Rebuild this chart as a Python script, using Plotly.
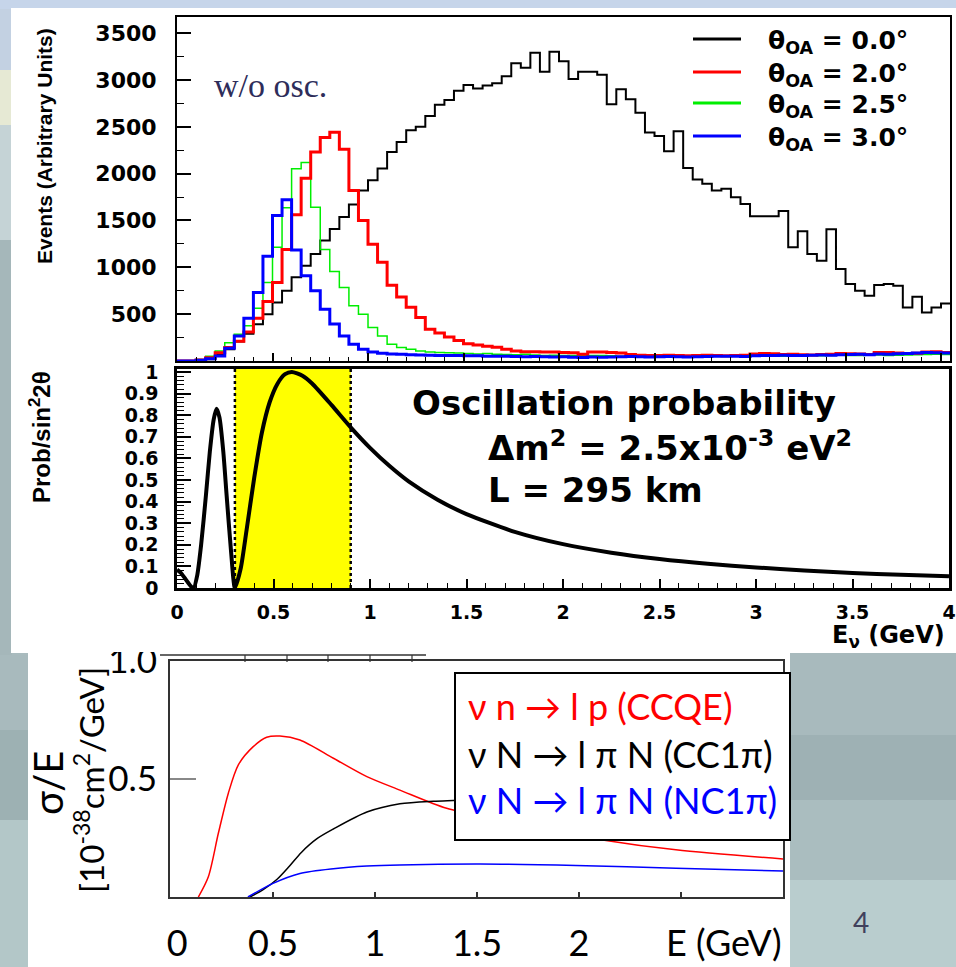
import numpy as np
import plotly.graph_objects as go

W, H = 956, 967

# ---------------- data: top panel (event spectra, 0.05 GeV bins from 0) ----------------
bin_width = 0.05
series_names = ["θ<sub>OA</sub> = 0.0°", "θ<sub>OA</sub> = 2.0°", "θ<sub>OA</sub> = 2.5°", "θ<sub>OA</sub> = 3.0°"]
series_colors = ["#000000", "#ff0000", "#00ee00", "#0000ff"]

events_oa00 = [0, 0, 5, 18, 64, 125, 207, 290, 393, 500,
               625, 750, 893, 1018, 1143, 1286, 1410, 1536, 1671, 1821,
               1929, 2054, 2232, 2339, 2464, 2500, 2615, 2735, 2785, 2885,
               2945, 2910, 2940, 2965, 3040, 3178, 3130, 3290, 3087, 3300,
               3200, 3009, 3087, 3087, 3055, 2740, 2900, 2794, 2651, 2438,
               2402, 2238, 2452, 2059, 1938, 1891, 1820, 1838, 1749, 1677,
               1545, 1545, 1545, 1600, 1214, 1386, 1143, 1071, 1407, 982,
               821, 750, 696, 811, 821, 804, 571, 686, 518, 571, 614]
events_oa20 = [0, 0, 10, 36, 89, 143, 210, 310, 455, 635,
               839, 1190, 1560, 1950, 2232, 2385, 2442, 2260, 1821, 1500,
               1245, 1054, 808, 682, 575, 464, 339, 300, 255, 220,
               185, 170, 158, 148, 125, 107, 100, 98, 96, 95,
               92, 88, 72, 95, 96, 90, 86, 70, 62, 60,
               58, 62, 60, 55, 58, 62, 60, 55, 58, 62,
               75, 80, 78, 70, 72, 68, 65, 70, 72, 80,
               78, 75, 70, 90, 92, 85, 80, 82, 95, 100, 90]
events_oa25 = [0, 0, 15, 50, 107, 196, 286, 375, 564, 839,
               1214, 1636, 2053, 2118, 1642, 1190, 955, 785, 590, 500,
               357, 268, 178, 143, 125, 107, 95, 90, 88, 85,
               80, 75, 80, 72, 70, 68, 72, 65, 60, 62,
               60, 58, 62, 60, 58, 55, 52, 55, 50, 52,
               50, 55, 48, 52, 55, 50, 52, 48, 55, 52,
               58, 60, 55, 52, 55, 58, 60, 55, 58, 62,
               60, 58, 62, 65, 60, 62, 65, 68, 70, 72, 70]
events_oa30 = [0, 0, 8, 25, 54, 136, 268, 457, 732, 1118,
               1554, 1721, 1185, 911, 750, 553, 395, 268, 178, 125,
               96, 82, 75, 71, 68, 65, 62, 60, 58, 60,
               57, 55, 52, 50, 52, 48, 45, 48, 45, 42,
               45, 40, 38, 42, 40, 42, 45, 48, 45, 42,
               45, 48, 45, 42, 45, 48, 50, 52, 50, 48,
               55, 60, 58, 62, 60, 58, 62, 65, 62, 68,
               70, 72, 68, 75, 72, 78, 80, 85, 90, 88, 86]
series_values = [events_oa00, events_oa20, events_oa25, events_oa30]
series_widths = [2, 3, 1.5, 3]
draw_order = [0, 2, 1, 3]

# ---------------- data: middle panel (oscillation probability) ----------------
prob_energy = [0.0, 0.02, 0.045, 0.07, 0.086, 0.105, 0.125, 0.15, 0.17, 0.19,
               0.205, 0.22, 0.24, 0.257, 0.28, 0.30, 0.33, 0.36, 0.40, 0.44,
               0.48, 0.52, 0.56, 0.595, 0.65, 0.70, 0.80, 0.90, 1.0, 1.1,
               1.2, 1.35, 1.5, 1.75, 2.0, 2.25, 2.5, 2.75, 3.0, 3.25,
               3.5, 3.75, 4.0]
prob_value = [0.085, 0.07, 0.04, 0.01, 0.0, 0.06, 0.2, 0.43, 0.63, 0.78,
              0.83, 0.79, 0.63, 0.43, 0.17, 0.0, 0.09, 0.265, 0.51, 0.72,
              0.86, 0.945, 0.99, 1.0, 0.983, 0.947, 0.848, 0.744, 0.649, 0.566,
              0.494, 0.409, 0.342, 0.26, 0.203, 0.1635, 0.134, 0.112, 0.095, 0.081,
              0.07, 0.061, 0.054]
band_range = [0.3, 0.9]

# ---------------- data: bottom panel (cross sections) ----------------
ccqe_E = [0.134, 0.183, 0.232, 0.281, 0.33, 0.403, 0.469, 0.534, 0.632, 0.796,
          0.96, 1.122, 1.351, 1.6, 1.85, 2.116, 2.475, 3.0]
ccqe_v = [0.0, 0.086, 0.27, 0.44, 0.56, 0.637, 0.677, 0.682, 0.665, 0.588,
          0.51, 0.453, 0.376, 0.33, 0.285, 0.242, 0.2, 0.161]
cc1pi_E = [0.387, 0.45, 0.52, 0.58, 0.64, 0.714, 0.796, 0.96, 1.122, 1.286,
           1.382, 1.6, 2.0, 2.5, 3.0]
cc1pi_v = [0.0, 0.03, 0.075, 0.13, 0.19, 0.246, 0.288, 0.36, 0.395, 0.406,
           0.409, 0.415, 0.42, 0.42, 0.415]
nc1pi_E = [0.377, 0.5, 0.632, 0.796, 0.96, 1.122, 1.515, 1.985, 2.475, 3.0]
nc1pi_v = [0.0, 0.058, 0.10, 0.12, 0.131, 0.136, 0.14, 0.134, 0.122, 0.11]
xs_labels = ["ν n → l p (CCQE)", "ν N → l π N (CC1π)", "ν N → l π N (NC1π)"]
xs_colors = ["#ff0000", "#000000", "#0000ff"]

top_yticks = [500, 1000, 1500, 2000, 2500, 3000, 3500]
mid_xticks = [0, 0.5, 1, 1.5, 2, 2.5, 3, 3.5, 4]
mid_xtext = ["0", "0.5", "1", "1.5", "2", "2.5", "3", "3.5", "4"]
mid_yticks = [0, 0.1, 0.2, 0.3, 0.4, 0.5, 0.6, 0.7, 0.8, 0.9, 1.0]
mid_ytext = ["0", "0.1", "0.2", "0.3", "0.4", "0.5", "0.6", "0.7", "0.8", "0.9", "1"]
bot_xticks = [0.03, 0.5, 1, 1.5, 2, 2.71]
bot_xtext = ["0", "0.5", "1", "1.5", "2", "E (GeV)"]
bot_yticks = [0.5, 1.0]
bot_ytext = ["0.5", "1.0"]


def fx(p):
    return p / W


def fy(p):
    return 1 - p / H


fig = go.Figure()

# top histograms
for i in draw_order:
    vals = series_values[i]
    edges = np.arange(len(vals) + 1) * bin_width
    fig.add_trace(go.Scatter(x=edges, y=list(vals) + [vals[-1]], mode="lines",
                             line=dict(color=series_colors[i], width=series_widths[i], shape="hv"),
                             name=series_names[i], showlegend=False, xaxis="x", yaxis="y"))

# middle probability
fig.add_trace(go.Scatter(x=prob_energy, y=prob_value, mode="lines",
                         line=dict(color="black", width=4, shape="spline", smoothing=0.6),
                         showlegend=False, xaxis="x2", yaxis="y2"))

# bottom cross sections
for xe, yv, col in zip([ccqe_E, cc1pi_E, nc1pi_E], [ccqe_v, cc1pi_v, nc1pi_v], xs_colors):
    fig.add_trace(go.Scatter(x=xe, y=yv, mode="lines",
                             line=dict(color=col, width=1.5, shape="spline", smoothing=0.8),
                             showlegend=False, xaxis="x3", yaxis="y3"))

shapes = []


def prect(x0, y0, x1, y1, color, layer="below", line=None):
    shapes.append(dict(type="rect", xref="paper", yref="paper", x0=fx(x0), x1=fx(x1),
                       y0=fy(y1), y1=fy(y0), fillcolor=color, layer=layer,
                       line=dict(width=0) if line is None else line))


def pline(x0, y0, x1, y1, color, width, layer="above", dash="solid"):
    shapes.append(dict(type="line", xref="paper", yref="paper", x0=fx(x0), x1=fx(x1),
                       y0=fy(y0), y1=fy(y1), layer=layer,
                       line=dict(color=color, width=width, dash=dash)))


# slide background
prect(0, 0, W, 9, "#c6d5ea")
prect(0, 9, 12, 70, "#c3d1e2")
prect(0, 70, 12, 125, "#e6e9d4")
prect(0, 125, 12, 240, "#c5d3d6")
prect(0, 240, 12, 660, "#a5b7ba")
prect(0, 655, 28, 730, "#a8babd")
prect(0, 730, 28, 820, "#9db1b3")
prect(0, 820, 28, 967, "#b3c7c8")
prect(790, 653, W, 735, "#a8babd")
prect(790, 735, W, 800, "#9eb1b4")
prect(790, 800, W, 880, "#aabdbf")
prect(790, 880, W, 967, "#b9cdce")
# image panels
prect(11, 8, W, 653, "white")
prect(28, 650, 790, H, "white")

# yellow band and dotted borders in middle panel
shapes.append(dict(type="rect", xref="x2", yref="y2", x0=band_range[0], x1=band_range[1],
                   y0=0, y1=1.014, fillcolor="#ffff00", line=dict(width=0), layer="below"))
for bx in band_range:
    shapes.append(dict(type="line", xref="x2", yref="y2", x0=bx, x1=bx, y0=0, y1=1.014,
                       line=dict(color="black", width=2.5, dash="dot"), layer="above"))

# top legend lines
leg_y = [39, 72, 103, 136]
for yy, col in zip(leg_y, series_colors):
    pline(693, yy, 741, yy, col, 3)

# residue of covered frame at top of bottom image
pline(160, 655, 426, 655, "#333333", 1.5)
for tx in [245, 287, 328, 370, 412]:
    pline(tx, 655, tx, 662, "#333333", 1.2)
# clip top of "1.0" label (covered by upper image)
prect(95, 630, 168, 652, "white", layer="above")

# bottom legend box
prect(455, 673, 790, 840, "white", layer="above", line=dict(color="black", width=2))

fig.update_layout(shapes=shapes)

ann = []
bold = dict(family="DejaVu Sans", weight="bold", color="black")
for yy, nm in zip(leg_y, series_names):
    ann.append(dict(x=fx(766), y=fy(yy + 3), xref="paper", yref="paper", text=nm,
                    showarrow=False, xanchor="left", yanchor="middle",
                    font=dict(bold, size=25)))
ann.append(dict(x=fx(212), y=fy(85), xref="paper", yref="paper", text="w/o osc.",
                showarrow=False, xanchor="left", yanchor="middle",
                font=dict(family="Liberation Serif", size=34, color="#2e2d5a")))
ann.append(dict(x=fx(45), y=fy(146), xref="paper", yref="paper",
                text="Events (Arbitrary Units)", textangle=-90, showarrow=False,
                xanchor="center", yanchor="middle",
                font=dict(family="Liberation Sans", weight="bold", size=21, color="black")))
ann.append(dict(x=fx(40), y=fy(437), xref="paper", yref="paper",
                text="Prob/sin<sup>2</sup>2θ", textangle=-90, showarrow=False,
                xanchor="center", yanchor="middle",
                font=dict(family="Liberation Sans", weight="bold", size=24, color="black")))
ann.append(dict(x=fx(410), y=fy(403), xref="paper", yref="paper",
                text="Oscillation probability", showarrow=False,
                xanchor="left", yanchor="middle", font=dict(bold, size=34)))
ann.append(dict(x=fx(486), y=fy(446), xref="paper", yref="paper",
                text="Δm<sup>2</sup> = 2.5x10<sup>-3</sup> eV<sup>2</sup>", showarrow=False,
                xanchor="left", yanchor="middle", font=dict(bold, size=34)))
ann.append(dict(x=fx(486), y=fy(490), xref="paper", yref="paper",
                text="L = 295 km", showarrow=False,
                xanchor="left", yanchor="middle", font=dict(bold, size=34)))
ann.append(dict(x=fx(947), y=fy(636), xref="paper", yref="paper",
                text="E<sub>ν</sub> (GeV)", showarrow=False,
                xanchor="right", yanchor="middle", font=dict(bold, size=24)))
for yy, txt, col in zip([706, 754, 800], xs_labels, xs_colors):
    ann.append(dict(x=fx(466), y=fy(yy), xref="paper", yref="paper", text=txt,
                    showarrow=False, xanchor="left", yanchor="middle",
                    font=dict(family="Lato", size=36, color=col)))
ann.append(dict(x=fx(48), y=fy(783), xref="paper", yref="paper", text="σ/E",
                textangle=-90, showarrow=False, xanchor="center", yanchor="middle",
                font=dict(family="Lato", size=40, color="black")))
ann.append(dict(x=fx(89), y=fy(780), xref="paper", yref="paper",
                text="[10<sup>-38</sup>cm<sup>2</sup>/GeV]",
                textangle=-90, showarrow=False, xanchor="center", yanchor="middle",
                font=dict(family="Lato", size=33, color="black")))
ann.append(dict(x=fx(861), y=fy(922), xref="paper", yref="paper", text="4",
                showarrow=False, xanchor="center", yanchor="middle",
                font=dict(family="Lato", size=28, color="#40405c")))

axis_common = dict(showgrid=False, zeroline=False, showline=True, mirror=True,
                   linecolor="black", ticks="inside", tickcolor="black")

fig.update_layout(
    width=W, height=H, margin=dict(l=0, r=0, t=0, b=0, pad=0, autoexpand=False),
    paper_bgcolor="#a9bbbe", plot_bgcolor="rgba(0,0,0,0)",
    annotations=ann, showlegend=False,
    xaxis=dict(axis_common, domain=[fx(177), fx(950)], range=[0, 4.047], anchor="y",
               linewidth=2, showticklabels=False, tick0=0, dtick=0.5, ticklen=8, tickwidth=1.5,
               minor=dict(dtick=0.1, ticklen=4, ticks="inside", tickcolor="black", tickwidth=1)),
    yaxis=dict(axis_common, domain=[fy(361), fy(17)], range=[0, 3672], anchor="x",
               linewidth=2, tickvals=top_yticks, ticklen=14, tickwidth=1.5,
               ticklabelstandoff=14, tickfont=dict(bold, size=22),
               minor=dict(dtick=250, ticklen=7, ticks="inside", tickcolor="black", tickwidth=1)),
    xaxis2=dict(axis_common, domain=[fx(177), fx(949)], range=[0, 4], anchor="y2",
                linewidth=2.5, tickvals=mid_xticks, ticktext=mid_xtext, ticklen=9, tickwidth=1.5,
                ticklabelstandoff=5, tickfont=dict(bold, size=19),
                minor=dict(dtick=0.1, ticklen=5, ticks="inside", tickcolor="black", tickwidth=1)),
    yaxis2=dict(axis_common, domain=[fy(588), fy(369)], range=[0, 1.014], anchor="x2",
                linewidth=2.5, tickvals=mid_yticks, ticktext=mid_ytext, ticklen=14, tickwidth=1.5,
                ticklabelstandoff=12, tickfont=dict(bold, size=19),
                minor=dict(dtick=0.02, ticklen=7, ticks="inside", tickcolor="black", tickwidth=1)),
    xaxis3=dict(showgrid=False, zeroline=False, showline=True, mirror=True,
                linecolor="#333333", linewidth=2, domain=[fx(170), fx(783)],
                range=[-0.005, 3.0], anchor="y3", tickvals=bot_xticks, ticktext=bot_xtext,
                ticks="", ticklabelstandoff=14, tickfont=dict(family="Lato", size=36, color="black"),
                minor=dict(tickvals=[0.5, 1, 1.5, 2, 2.5], ticks="inside", ticklen=5,
                           tickcolor="#333333", tickwidth=1.5)),
    yaxis3=dict(showgrid=False, zeroline=False, showline=True, mirror=True,
                linecolor="#333333", linewidth=2, domain=[fy(897), fy(661)],
                range=[0, 1.0], anchor="x3", tickvals=bot_yticks, ticktext=bot_ytext,
                ticks="inside", ticklen=26, tickcolor="#888888", tickwidth=2,
                ticklabelstandoff=4, tickfont=dict(family="Lato", size=35, color="black")),
)

fig.write_html("out.html")
